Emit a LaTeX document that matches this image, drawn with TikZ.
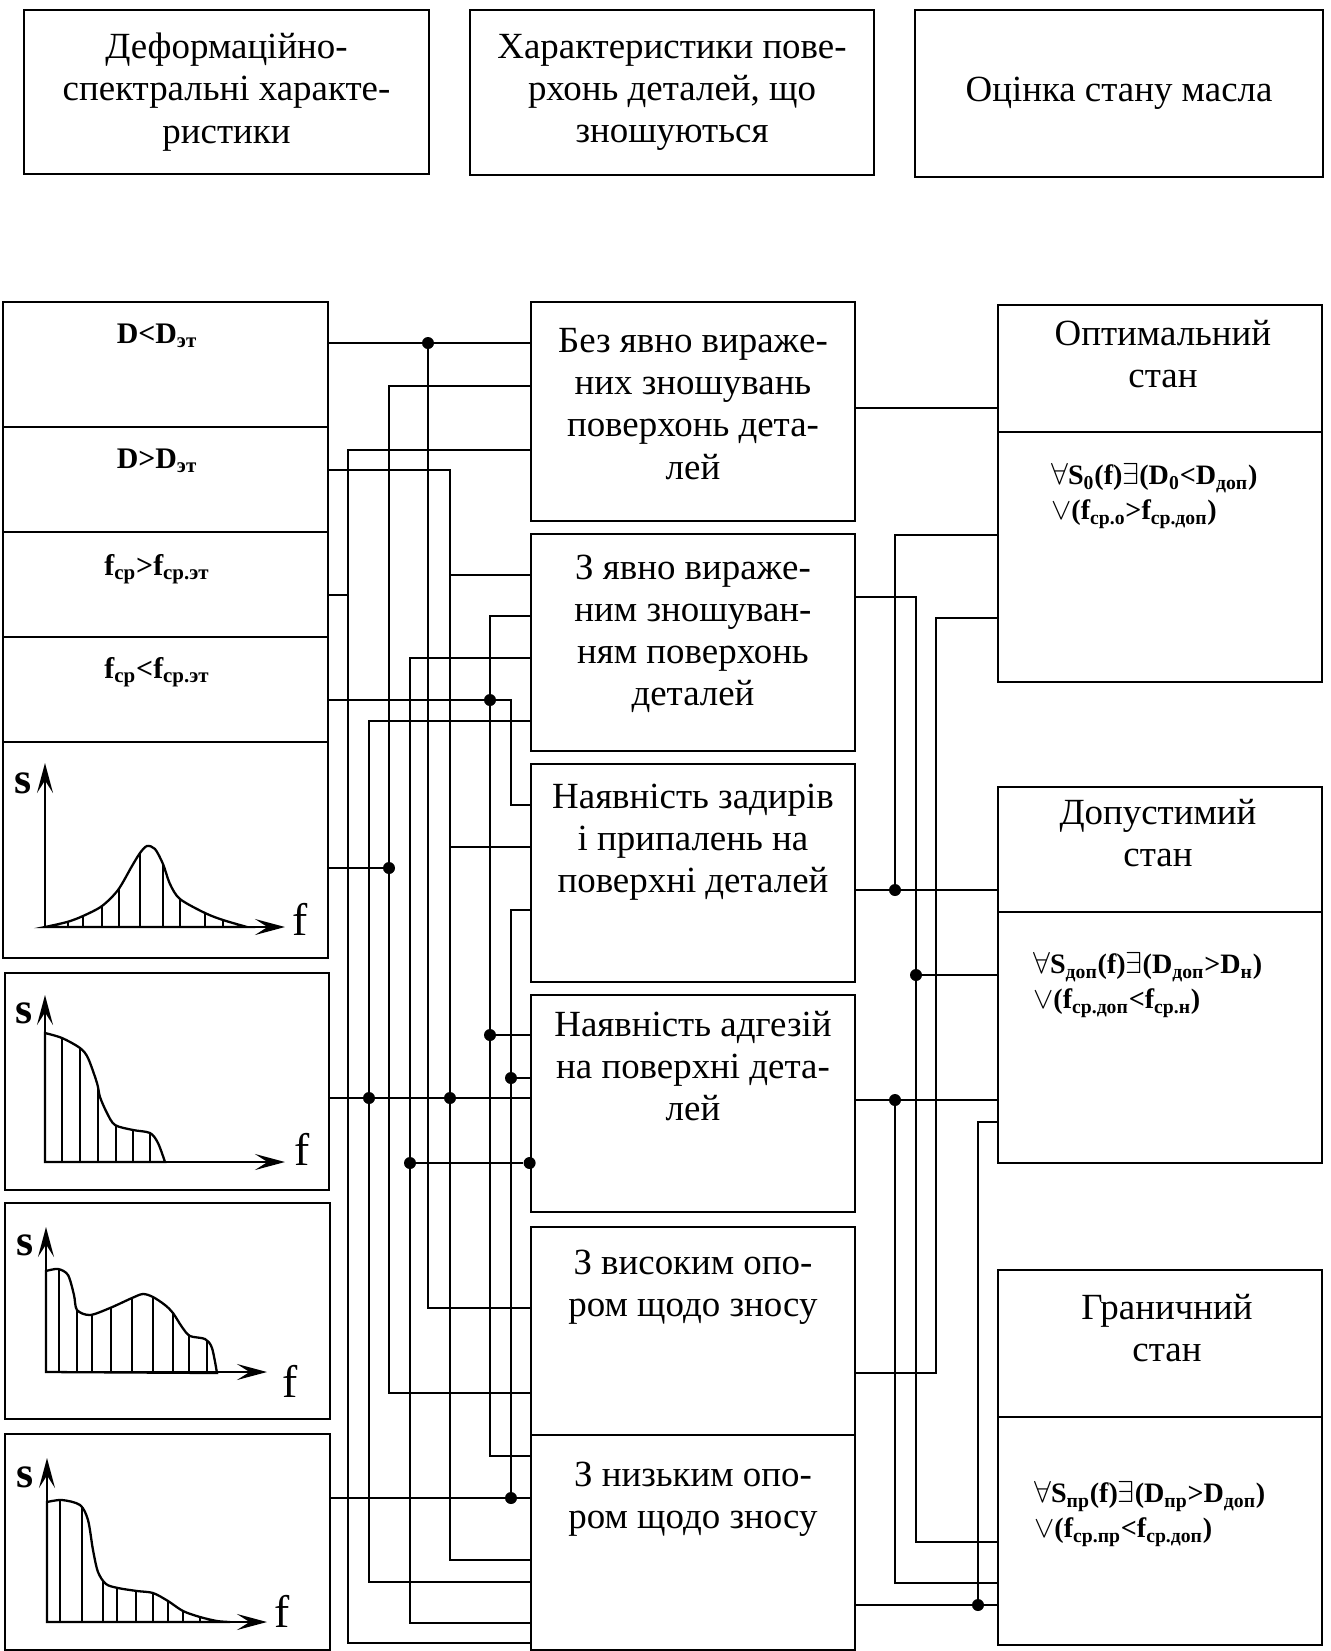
\documentclass[tikz,border=0pt]{standalone}
\usepackage{fontspec}
\setmainfont{Liberation Serif}
\usetikzlibrary{arrows.meta}
\tikzset{font=\fontsize{21}{24}\selectfont}

\begin{document}
\begin{tikzpicture}[x=0.02cm,y=-0.02cm,
    box/.style={draw,line width=1.6pt,inner sep=0pt},
    txt/.style={align=center},
    lbl/.style={font=\fontsize{17}{20}\selectfont\bfseries},
    frm/.style={align=left,font=\fontsize{16}{20}\selectfont\bfseries},
    dot/.style={circle,fill,inner sep=0pt,minimum size=0.24cm},
    wire/.style={line width=1.4pt},
    curve/.style={line width=1.3pt},
    hatch/.style={line width=0.6pt},
    axis/.style={line width=1.4pt,-{Stealth[length=0.6cm,width=0.32cm,inset=0.25cm]}},
    sl/.style={font=\fontsize{25}{25}\selectfont\bfseries},
    fl/.style={font=\fontsize{26}{26}\selectfont}]
  \useasboundingbox (0,0) rectangle (1330,1651);

  \node[box,txt,minimum width=8.1cm,minimum height=3.28cm] (T1) at (226.5,92) {Деформаційно-\\спектральні характе-\\ристики};
  \node[box,txt,minimum width=8.08cm,minimum height=3.3cm] (T2) at (672,92.5) {Характеристики пове-\\рхонь деталей, що\\зношуються};
  \node[box,txt,minimum width=8.16cm,minimum height=3.34cm] (T3) at (1119,93.5) {Оцінка стану масла};

  \node[box,minimum width=6.5cm,minimum height=2.5cm] (L1) at (165.5,364.5) {};
  \node[box,minimum width=6.5cm,minimum height=2.1cm] (L2) at (165.5,479.5) {};
  \node[box,minimum width=6.5cm,minimum height=2.1cm] (L3) at (165.5,584.5) {};
  \node[box,minimum width=6.5cm,minimum height=2.1cm] (L4) at (165.5,689.5) {};
  \node[box,minimum width=6.5cm,minimum height=4.32cm] (G1) at (165.5,850) {};
  \node[box,minimum width=6.48cm,minimum height=4.34cm] (G2) at (167,1081.5) {};
  \node[box,minimum width=6.5cm,minimum height=4.32cm] (G3) at (167.5,1311) {};
  \node[box,minimum width=6.5cm,minimum height=4.32cm] (G4) at (167.5,1542) {};

  \node[lbl,anchor=base] (L1t) at (157,343) {D<D\textsubscript{эт}};
  \node[lbl,anchor=base] (L2t) at (157,468) {D>D\textsubscript{эт}};
  \node[lbl,anchor=base] (L3t) at (157,575) {f\textsubscript{ср}>f\textsubscript{ср.эт}};
  \node[lbl,anchor=base] (L4t) at (157,678) {f\textsubscript{ср}<f\textsubscript{ср.эт}};

  \node[box,minimum width=6.48cm,minimum height=4.38cm] (M1) at (693,411.5) {};
  \node[box,minimum width=6.48cm,minimum height=4.34cm] (M2) at (693,642.5) {};
  \node[box,minimum width=6.48cm,minimum height=4.36cm] (M3) at (693,873) {};
  \node[box,minimum width=6.48cm,minimum height=4.34cm] (M4) at (693,1103.5) {};
  \node[box,minimum width=6.48cm,minimum height=4.16cm] (M5) at (693,1331) {};
  \node[box,minimum width=6.48cm,minimum height=4.3cm] (M6) at (693,1542.5) {};

  \node[txt] (M1t) at (693,404) {Без явно виражe-\\них зношувань\\поверхонь дета-\\лей};
  \node[txt] (M2t) at (693,634) {З явно виражe-\\ним зношуван-\\ням поверхонь\\деталей};
  \node[txt] (M3t) at (693,842) {Наявність задирів\\і припалень на\\поверхні деталей};
  \node[txt] (M4t) at (693,1066) {Наявність адгезій\\на поверхні дета-\\лей};
  \node[txt] (M5t) at (693,1287) {З високим опо-\\ром щодо зносу};
  \node[txt] (M6t) at (693,1499) {З низьким опо-\\ром щодо зносу};

  \node[box,minimum width=6.48cm,minimum height=2.54cm] (R1) at (1160,368.5) {};
  \node[box,minimum width=6.48cm,minimum height=5cm] (R1f) at (1160,557) {};
  \node[box,minimum width=6.48cm,minimum height=2.5cm] (R2) at (1160,849.5) {};
  \node[box,minimum width=6.48cm,minimum height=5.02cm] (R2f) at (1160,1037.5) {};
  \node[box,minimum width=6.48cm,minimum height=2.94cm] (R3) at (1160,1343.5) {};
  \node[box,minimum width=6.48cm,minimum height=4.56cm] (R3f) at (1160,1531) {};

  \node[txt] (R1t) at (1163,354) {Оптимальний\\стан};
  \node[txt] (R2t) at (1158,833) {Допустимий\\стан};
  \node[txt] (R3t) at (1167,1328) {Граничний\\стан};

  \node[frm,anchor=west] (R1e) at (1045,496) {$\forall$S\textsubscript{0}(f)$\exists$(D\textsubscript{0}<D\textsubscript{доп})\\$\vee$(f\textsubscript{ср.о}>f\textsubscript{ср.доп})};
  \node[frm,anchor=west] (R2e) at (1027,985) {$\forall$S\textsubscript{доп}(f)$\exists$(D\textsubscript{доп}>D\textsubscript{н})\\$\vee$(f\textsubscript{ср.доп}<f\textsubscript{ср.н})};
  \node[frm,anchor=west] (R3e) at (1028,1514) {$\forall$S\textsubscript{пр}(f)$\exists$(D\textsubscript{пр}>D\textsubscript{доп})\\$\vee$(f\textsubscript{ср.пр}<f\textsubscript{ср.доп})};

  % spectra
  \begin{scope}[curve]
    \draw[clip] plot[smooth] coordinates {(45,927) (67,922) (83,916) (102,906) (118,890) (132,866) (140,853) (147,846) (155,849) (163,864) (170,884) (180,899) (205,913) (223,920) (247,927)} -- cycle;
    \draw[hatch] (68,927) -- (68,800) (83,927) -- (83,800) (102,927) -- (102,800) (119,927) -- (119,800) (140,927) -- (140,800) (163,927) -- (163,800) (180,927) -- (180,800) (205,927) -- (205,800) (223,927) -- (223,800);
  \end{scope}
  \draw[axis] (45,927) -- (45,763);
  \draw[axis] (45,927) -- (285,927);
  \node[sl] (G1s) at (23,783) {s};
  \node[fl] (G1f) at (300,919) {f};

  \begin{scope}[curve]
    \draw[clip] (45,1162) -- plot[smooth] coordinates {(45,1033) (62,1038) (80,1048) (88,1058) (97,1083) (100,1097) (107,1113) (115,1125) (133,1130) (150,1133) (158,1143) (165,1162)} -- cycle;
    \draw[hatch] (62,1162) -- (62,1000) (80,1162) -- (80,1000) (98,1162) -- (98,1000) (116,1162) -- (116,1000) (133,1162) -- (133,1000) (150,1162) -- (150,1000);
  \end{scope}
  \draw[axis] (45,1162) -- (45,995);
  \draw[axis] (45,1162) -- (285,1162);
  \node[sl] (G2s) at (24,1013) {s};
  \node[fl] (G2f) at (302,1149) {f};

  \begin{scope}[curve]
    \draw[clip] (46,1372) -- plot[smooth] coordinates {(46,1271) (58,1269) (68,1275) (74,1295) (77,1310) (90,1315) (110,1308) (132,1298) (143,1294) (153,1297) (165,1305) (173,1313) (182,1327) (190,1336) (205,1339) (212,1348) (217,1373)} -- cycle;
    \draw[hatch] (59,1372) -- (59,1230) (77,1372) -- (77,1230) (92,1372) -- (92,1230) (111,1372) -- (111,1230) (132,1372) -- (132,1230) (153,1372) -- (153,1230) (173,1372) -- (173,1230) (189,1372) -- (189,1230) (207,1372) -- (207,1230);
  \end{scope}
  \draw[axis] (46,1372) -- (46,1227);
  \draw[axis] (46,1372) -- (267,1372);
  \node[sl] (G3s) at (25,1245) {s};
  \node[fl] (G3f) at (290,1381) {f};

  \begin{scope}[curve]
    \draw[clip] (47,1622) -- plot[smooth] coordinates {(47,1502) (62,1500) (80,1505) (88,1520) (93,1550) (98,1572) (106,1584) (118,1588) (137,1591) (153,1593) (168,1601) (183,1611) (200,1617) (217,1621) (230,1622)} -- cycle;
    \draw[hatch] (60,1622) -- (60,1460) (82,1622) -- (82,1460) (103,1622) -- (103,1460) (117,1622) -- (117,1460) (136,1622) -- (136,1460) (153,1622) -- (153,1460) (168,1622) -- (168,1460) (183,1622) -- (183,1460) (200,1622) -- (200,1460);
  \end{scope}
  \draw[axis] (47,1622) -- (47,1458);
  \draw[axis] (47,1622) -- (267,1622);
  \node[sl] (G4s) at (25,1477) {s};
  \node[fl] (G4f) at (282,1611) {f};

  % junctions
  \node[dot] (d1) at (428,343) {};
  \node[dot] (d2) at (389,868) {};
  \node[dot] (d3) at (369,1098) {};
  \node[dot] (d4) at (450,1098) {};
  \node[dot] (d5) at (490,700) {};
  \node[dot] (d6) at (490,1035) {};
  \node[dot] (d7) at (410,1163) {};
  \node[dot] (d8) at (M4.west |- d7) {};
  \node[dot] (d9) at (511,1078) {};
  \node[dot] (d10) at (511,1498) {};
  \node[dot] (d11) at (895,890) {};
  \node[dot] (d12) at (916,975) {};
  \node[dot] (d13) at (895,1100) {};
  \node[dot] (d14) at (978,1605) {};

  \coordinate (c1) at (428,1308);
  \coordinate (c2) at (389,386);
  \coordinate (c3) at (389,1393);
  \coordinate (c4) at (348,450);
  \coordinate (c5) at (348,1643);
  \coordinate (c6) at (348,595);
  \coordinate (c7) at (450,470);
  \coordinate (c8) at (450,1560);
  \coordinate (c9) at (450,575);
  \coordinate (c10) at (450,847);
  \coordinate (c11) at (490,616);
  \coordinate (c12) at (490,1456);
  \coordinate (c13) at (511,700);
  \coordinate (c14) at (511,805);
  \coordinate (c15) at (410,658);
  \coordinate (c16) at (410,1623);
  \coordinate (c17) at (369,721);
  \coordinate (c18) at (369,1582);
  \coordinate (c19) at (511,910);

  \coordinate (e1) at (900,408);
  \coordinate (e2) at (895,535);
  \coordinate (e3) at (916,597);
  \coordinate (e4) at (916,1542);
  \coordinate (e5) at (936,618);
  \coordinate (e6) at (936,1373);
  \coordinate (e7) at (895,1583);
  \coordinate (e8) at (978,1122);

  % left buses
  \draw[wire] (L1.east |- d1) -- (M1.west |- d1);
  \draw[wire] (d1) -- (c1) -- (M5.west |- c1);
  \draw[wire] (M1.west |- c2) -- (c2) -- (c3) -- (M5.west |- c3);
  \draw[wire] (G1.east |- d2) -- (d2);
  \draw[wire] (M1.west |- c4) -- (c4) -- (c5) -- (M6.west |- c5);
  \draw[wire] (L3.east |- c6) -- (c6);
  \draw[wire] (L2.east |- c7) -- (c7) -- (c8) -- (M6.west |- c8);
  \draw[wire] (c9) -- (M2.west |- c9);
  \draw[wire] (c10) -- (M3.west |- c10);
  \draw[wire] (G2.east |- d3) -- (M4.west |- d3);
  \draw[wire] (M2.west |- c11) -- (c11) -- (c12) -- (M6.west |- c12);
  \draw[wire] (L4.east |- d5) -- (c13) -- (c14) -- (M3.west |- c14);
  \draw[wire] (d6) -- (M4.west |- d6);
  \draw[wire] (M2.west |- c15) -- (c15) -- (c16) -- (M6.west |- c16);
  \draw[wire] (d7) -- (d8);
  \draw[wire] (M2.west |- c17) -- (c17) -- (c18) -- (M6.west |- c18);
  \draw[wire] (M3.west |- c19) -- (c19) -- (d10);
  \draw[wire] (d9) -- (M4.west |- d9);
  \draw[wire] (G4.east |- d10) -- (M6.west |- d10);

  % right buses
  \draw[wire] (M1.east |- e1) -- (R1.west |- e1);
  \draw[wire] (R1f.west |- e2) -- (e2) -- (d11);
  \draw[wire] (M3.east |- d11) -- (R2.west |- d11);
  \draw[wire] (M2.east |- e3) -- (e3) -- (e4) -- (R3f.west |- e4);
  \draw[wire] (d12) -- (R2f.west |- d12);
  \draw[wire] (R1f.west |- e5) -- (e5) -- (e6) -- (M5.east |- e6);
  \draw[wire] (M4.east |- d13) -- (R2f.west |- d13);
  \draw[wire] (d13) -- (e7) -- (R3f.west |- e7);
  \draw[wire] (R2f.west |- e8) -- (e8) -- (d14);
  \draw[wire] (M6.east |- d14) -- (R3f.west |- d14);
\end{tikzpicture}
\end{document}
